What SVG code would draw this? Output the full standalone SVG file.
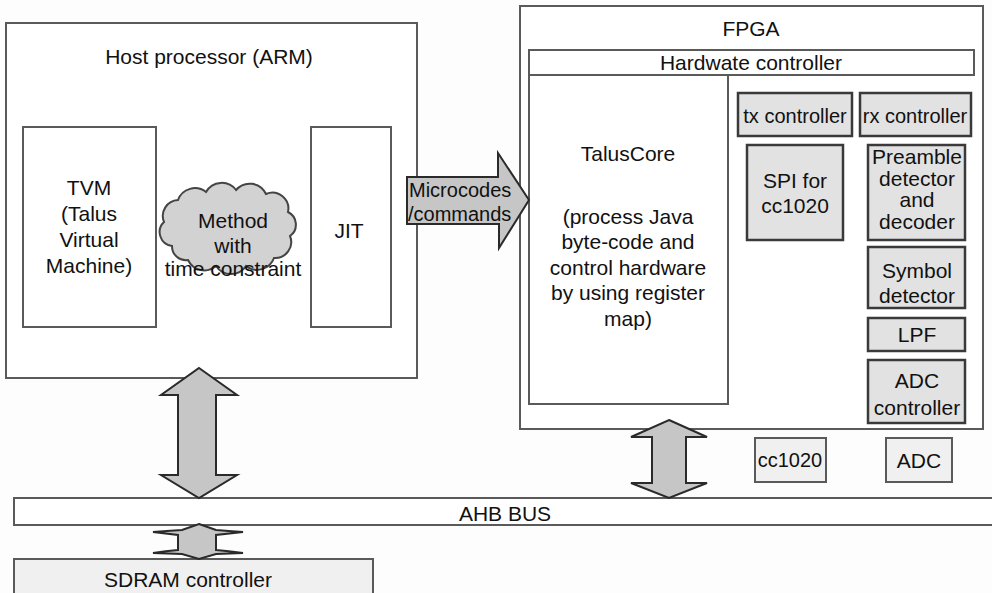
<svg xmlns="http://www.w3.org/2000/svg" width="992" height="593" viewBox="0 0 992 593">
<style>
text{font-family:"Liberation Sans",Arial,sans-serif;font-size:21px;fill:#111;text-anchor:middle}
.box{fill:#fff;stroke:#5a5a5a;stroke-width:2}
.blk{fill:#e2e2e2;stroke:#3a3a3a;stroke-width:2.5}
.lt{fill:#f0f0f0;stroke:#5a5a5a;stroke-width:2}
.arr{fill:#c6c6c6;stroke:#2a2a2a;stroke-width:2;stroke-linejoin:miter}
.sm{font-size:20px}
</style>
<rect x="0" y="0" width="992" height="593" fill="#fdfdfd"/>
<g id="host">
<rect class="box" x="6" y="23" width="411" height="355"/>
<text x="209" y="64">Host processor (ARM)</text>
</g>
<g id="tvm">
<rect class="box" x="23" y="127" width="133" height="200"/>
<text x="89" y="195">TVM</text>
<text x="89" y="221">(Talus</text>
<text x="89" y="247">Virtual</text>
<text x="89" y="273">Machine)</text>
</g>
<g id="jit">
<rect class="box" x="311" y="127" width="80" height="200"/>
<text x="349" y="238">JIT</text>
</g>
<g id="method">
<path d="M172,246 a14,14 0 0 1 -8,-24 a16,16 0 0 1 14,-22 a18,18 0 0 1 28,-8 a18,18 0 0 1 30,-2 a18,18 0 0 1 30,4 a16,16 0 0 1 22,18 a14,14 0 0 1 2,24 a16,16 0 0 1 -16,22 a18,18 0 0 1 -28,8 a18,18 0 0 1 -30,0 a18,18 0 0 1 -28,-6 a14,14 0 0 1 -16,-14 Z" fill="#d2d2d2" stroke="#444" stroke-width="2"/>
<text x="233" y="228">Method</text>
<text x="233" y="253">with</text>
<text x="233" y="276">time constraint</text>
</g>
<g id="fpga">
<rect class="box" x="520" y="6" width="463" height="423"/>
<text x="751" y="36">FPGA</text>
</g>
<g id="hwctrl">
<rect class="box" x="529" y="50" width="445" height="25"/>
<text x="751" y="70">Hardwate controller</text>
</g>
<g id="taluscore">
<rect class="box" x="529" y="75" width="199" height="329"/>
<text x="628" y="161">TalusCore</text>
<text x="628" y="224">(process Java</text>
<text x="628" y="249">byte-code and</text>
<text x="628" y="275">control hardware</text>
<text x="628" y="300">by using register</text>
<text x="628" y="326">map)</text>
</g>
<g id="tx">
<rect class="blk" x="738" y="93" width="114" height="43"/>
<text class="sm" x="795" y="123">tx controller</text>
</g>
<g id="rx">
<rect class="blk" x="860" y="93" width="111" height="43"/>
<text class="sm" x="915" y="123">rx controller</text>
</g>
<g id="spi">
<rect class="blk" x="747" y="145" width="96" height="95"/>
<text x="795" y="188">SPI for</text>
<text x="795" y="213">cc1020</text>
</g>
<g id="preamble">
<rect class="blk" x="868" y="145" width="97" height="95"/>
<text x="917" y="164">Preamble</text>
<text x="917" y="186">detector</text>
<text x="917" y="207">and</text>
<text x="917" y="229">decoder</text>
</g>
<g id="symbol">
<rect class="blk" x="868" y="247" width="97" height="61"/>
<text x="917" y="278">Symbol</text>
<text x="917" y="303">detector</text>
</g>
<g id="lpf">
<rect class="blk" x="868" y="318" width="97" height="33"/>
<text x="917" y="342">LPF</text>
</g>
<g id="adcctrl">
<rect class="blk" x="868" y="360" width="97" height="63"/>
<text x="917" y="388">ADC</text>
<text x="917" y="415">controller</text>
</g>
<g id="cc1020">
<rect class="lt" x="755" y="438" width="71" height="44"/>
<text class="sm" x="790" y="467">cc1020</text>
</g>
<g id="adc">
<rect class="lt" x="886" y="438" width="66" height="44"/>
<text x="919" y="468">ADC</text>
</g>
<g id="ahb">
<rect class="box" x="14" y="498" width="980" height="27"/>
<text x="505" y="521">AHB BUS</text>
</g>
<g id="sdram">
<rect class="lt" x="14" y="559" width="359" height="40"/>
<text x="188" y="587">SDRAM controller</text>
</g>
<g id="connectors">
<polygon class="arr" points="407,177 498,177 498,153 529,200 499,248 499,224 407,224"/>
<text class="sm" x="409" y="197" style="text-anchor:start">Microcodes</text>
<text class="sm" x="408" y="221" style="text-anchor:start">/commands</text>
<polygon class="arr" points="199,368 237,395 216,395 216,475 237,475 199,498 161,475 178,475 178,395 161,395"/>
<polygon class="arr" points="669,420 707,437 686,437 686,483 707,483 669,498 631,483 652,483 652,437 631,437"/>
<path class="arr" d="M199,524 L216,530 Q228,531 243,532 L216,535 L216,550 Q228,551 243,553 L216,554 L199,559 L182,554 L153,553 Q166,551 178,550 L178,535 L153,532 Q166,531 182,530 Z"/>
</g>
</svg>
